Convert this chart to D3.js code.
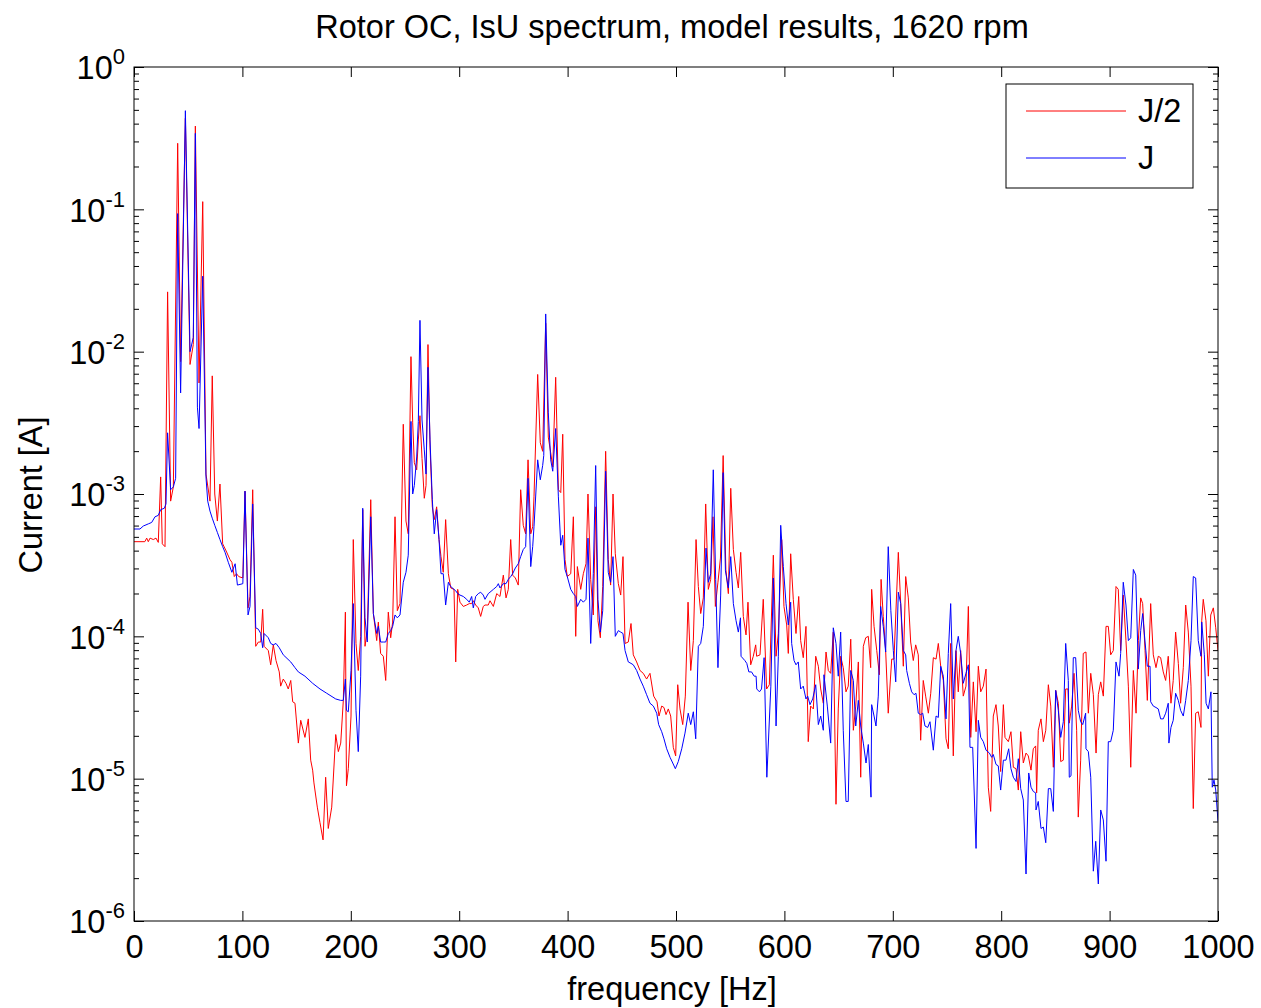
<!DOCTYPE html>
<html>
<head>
<meta charset="utf-8">
<script src="https://cdn.jsdelivr.net/npm/d3@7"></script>
<style>
body {margin:0; background:#fff;}
text {font-family:"Liberation Sans", Arial, Helvetica, sans-serif; fill:#000;}
</style>
</head>
<body>
<div id="chart"></div>
<script>
const FRAME_WIDTH = 1261;
const FRAME_HEIGHT = 1008;
const MARGINS = {left:134, right:43, top:67, bottom:87};

const VIS_WIDTH = FRAME_WIDTH - MARGINS.left - MARGINS.right;
const VIS_HEIGHT = FRAME_HEIGHT - MARGINS.top - MARGINS.bottom;

// tick values
const X_TICKS = [0, 100, 200, 300, 400, 500, 600, 700, 800, 900, 1000];
const Y_DECADES = [-6, -5, -4, -3, -2, -1, 0];
const MINOR_MULTS = [2, 3, 4, 5, 6, 7, 8, 9];

const SERIES_NAMES = ["J/2", "J"];

// J/2 spectrum: [frequency Hz, log10 current A]
const halfJ = [
[0,-3.335],[10,-3.335],[11.7,-3.31],[13.2,-3.335],[14.8,-3.31],[17.8,-3.32],[20.3,-3.31],[22.4,-3.34],[24.6,-2.88],[26.1,-3.35],
[28.6,-3.37],[31,-1.58],[33.8,-3.05],[36.3,-2.95],[40.3,-0.536],[43,-2.07],[47.4,-0.36],[51.7,-2.09],[54.7,-1.95],[56.6,-0.415],
[60,-2.22],[63.4,-0.946],[66.4,-2.86],[70.1,-3.05],[72.2,-2.17],[74.5,-3.0],[76.9,-3.19],[79.3,-2.93],[81.8,-3.35],[85,-3.40],
[88.5,-3.46],[90.3,-3.48],[92.5,-3.58],[94.6,-3.56],[96.6,-3.58],[100.4,-3.59],
[102.4,-2.98],[105.2,-3.80],[107,-3.72],[109.5,-2.97],[112.3,-4.07],[114.7,-4.04],[116.9,-4.04],[118.7,-3.81],[120,-4.07],[123.9,-4.10],
[126.1,-4.20],[128.5,-4.06],[131,-4.17],[134,-4.25],[135.3,-4.35],[137.7,-4.30],[140.2,-4.33],[142.3,-4.37],[144.6,-4.31],[146.4,-4.46],
[148.5,-4.47],[151.6,-4.75],[153.8,-4.59],[157.7,-4.71],[160.8,-4.58],[163,-4.87],[164.8,-4.94],[166,-5.03],[169.1,-5.20],[171.6,-5.31],
[174.4,-5.43],[176.8,-4.99],[179.2,-5.35],[182.4,-5.20],[186.1,-4.69],[188.5,-4.81],[190.7,-4.75],[193.1,-4.45],[195,-3.83],[196,-5.05],
[197.7,-4.93],[200.2,-4.56],[202.3,-3.32],[204.8,-4.05],[206.9,-4.24],[209.1,-4.0],[211,-3.11],[213.1,-4.07],[215.2,-3.96],[218.4,-3.04],
[220.8,-3.84],[223.9,-4.03],[225.4,-3.90],[227.5,-4.12],[230,-4.14],[232.2,-4.31],[234.6,-3.83],[236.8,-4.01],[238.6,-3.90],[240.8,-3.16],
[242.9,-3.82],[245.4,-3.77],[248.4,-2.51],[250.9,-3.19],[253,-3.28],[255.5,-2.035],[257.1,-2.50],[258.6,-2.78],[260.8,-2.83],[262.3,-2.62],
[263.8,-2.45],[265.7,-2.75],[267.8,-3.03],[269.4,-2.94],[271.2,-1.95],[273.1,-2.67],[275.2,-3.09],[277,-3.18],[279.2,-3.09],[281.4,-3.32],
[283.2,-3.44],[285.3,-3.55],[287.5,-3.18],[290,-3.56],[292.2,-3.66],[295.2,-3.67],[296.8,-4.18],[298.6,-3.67],[300.7,-3.76],[303.8,-3.79],
[306.9,-3.78],[309.3,-3.77],[311.5,-3.77],[313,-3.75],[315.2,-3.78],[317.6,-3.80],[319.8,-3.86],[322.2,-3.79],[323.8,-3.78],[326.8,-3.78],
[328.4,-3.75],[331.5,-3.79],[334.6,-3.70],[336.1,-3.71],[337.6,-3.72],[340.7,-3.57],[343.2,-3.73],[345.3,-3.67],[347.5,-3.32],[349.3,-3.57],
[351.8,-3.59],[354.5,-3.64],[356.7,-2.97],[359.1,-3.22],[361.3,-3.28],[363.5,-2.76],[366,-3.28],[367.8,-3.23],[369,-3.02],[372.4,-2.16],
[374.8,-2.64],[377,-2.70],[379.8,-1.80],[382.2,-2.60],[384.4,-2.71],[386.3,-2.81],[389,-2.18],[391.5,-2.97],[393.7,-2.99],[395.5,-2.58],
[397.6,-3.46],[399.7,-3.58],[402.9,-3.56],[405.3,-3.16],[407.5,-4.0],[409,-3.51],[412.1,-3.67],[414.5,-3.56],[417,-3.49],[418.8,-3.0],
[421.3,-3.60],[423.7,-3.85],[425.9,-3.09],[428,-3.89],[430.2,-4.01],[432.4,-3.65],[435.1,-2.70],[437.5,-3.46],[439.7,-3.64],[441.9,-3.0],
[444,-3.42],[446.8,-3.63],[449,-3.71],[451.1,-3.44],[453,-4.05],[456,-4.04],[458.5,-3.91],[460.6,-4.13],[463.7,-4.18],[466.8,-4.24],
[469.8,-4.26],[472.9,-4.30],[476,-4.26],[479.4,-4.42],[482.5,-4.46],[484.3,-4.56],[486.8,-4.49],[488.9,-4.50],[490.8,-4.55],[492.9,-4.51],
[495.1,-4.56],[497.5,-4.78],[499.7,-4.84],[501.6,-4.34],[503.7,-4.51],[506.2,-4.62],[508.6,-4.42],[511.1,-3.76],[513.6,-4.24],[516,-4.03],
[518.5,-3.32],[520.6,-3.65],[522.8,-3.84],[525.2,-3.73],[527.4,-3.07],[529.8,-3.67],[532,-3.60],[534.1,-3.16],[536.3,-3.79],[538.7,-3.62],
[541,-3.45],[543.5,-2.73],[546,-3.53],[548.3,-3.70],[550.5,-2.96],[552.9,-3.39],[555.4,-3.55],[557.5,-3.66],[559.7,-3.41],[562.1,-3.86],
[564.6,-3.99],[566.4,-3.76],[568.9,-4.20],[571.3,-4.14],[573.5,-4.06],[574.4,-4.14],[577.5,-4.13],[580.5,-3.74],[583.6,-4.37],[586.1,-4.34],
[589.8,-3.43],[592.3,-4.14],[594.4,-3.98],[597.5,-3.32],[599.6,-3.79],[602.1,-3.92],[603.6,-4.12],[605.8,-3.42],[608.2,-3.74],[610.7,-3.98],
[613.2,-3.72],[615,-4.03],[617.4,-4.15],[619.9,-3.93],[622,-4.74],[624.2,-4.49],[626.7,-4.51],[628.9,-4.14],[631.3,-4.21],[633.5,-4.37],
[635.9,-4.47],[638.4,-4.11],[640.5,-4.24],[642.7,-4.26],[645.1,-3.97],[647.6,-5.18],[649.7,-4.51],[651.9,-4.14],[654.3,-4.22],[656.8,-4.39],
[658.9,-4.35],[661.2,-4.02],[663.6,-4.66],[665.8,-4.49],[668.2,-4.18],[670.4,-4.99],[672.8,-4.07],[675,-4.01],[677.4,-4.0],[679.6,-4.22],
[680.5,-3.67],[682.7,-3.93],[685.2,-4.10],[687.6,-4.27],[689.2,-3.60],[691.2,-3.86],[693.4,-4.10],[695.8,-4.54],[699,-4.16],[701.1,-4.16],
[705.1,-3.41],[707.3,-3.77],[709.7,-4.21],[711.9,-3.58],[714.3,-3.73],[716.5,-4.04],[718.9,-4.17],[721.1,-4.06],[723.5,-4.13],[725.7,-4.73],
[728.1,-4.31],[730.3,-4.42],[732.8,-4.54],[735,-4.40],[737.4,-4.15],[739.9,-4.16],[742,-4.05],[744.2,-4.21],[746.6,-4.31],[749.1,-4.72],
[751.2,-4.79],[753.4,-4.05],[755.8,-4.84],[758.3,-4.10],[760.4,-4.39],[762.6,-4.10],[765,-4.42],[767.5,-4.35],[769.7,-3.79],[771.9,-4.71],
[774.3,-4.32],[776.8,-4.67],[778.9,-4.21],[781.1,-4.39],[783.5,-4.35],[786,-4.23],[788.1,-5.06],[790.3,-5.23],[792.7,-4.56],[795.2,-4.48],
[797.3,-4.63],[799.5,-4.95],[802,-4.48],[803.5,-4.71],[806.6,-4.74],[809,-4.67],[811.2,-4.92],[813.7,-4.93],[815.8,-5.08],[818,-4.67],
[820.4,-4.89],[822.9,-4.82],[825,-4.84],[827.5,-4.94],[829.6,-4.79],[831.8,-4.77],[832.7,-5.10],[834.2,-4.66],[836.7,-4.58],[838.9,-4.74],
[841.1,-4.66],[843.5,-4.34],[845.7,-4.49],[848.1,-4.92],[850.3,-4.38],[852.7,-4.47],[854.9,-4.88],[857.3,-4.87],[859.5,-4.37],[861.6,-4.37],
[862.8,-4.61],[865,-4.49],[867.2,-4.26],[869.6,-4.66],[871.1,-5.27],[873.3,-4.87],[875.7,-4.12],[878.2,-4.11],[880.4,-4.54],[882.6,-4.26],
[885,-4.41],[887.5,-4.82],[889.6,-4.41],[891.8,-4.32],[894.2,-4.42],[896.7,-3.93],[898.8,-3.93],[901,-4.13],[903.4,-4.10],[905.9,-3.65],
[908,-3.67],[910.2,-4.10],[912.6,-3.71],[915.1,-4.03],[917.3,-4.35],[919.5,-4.92],[921.9,-4.24],[924.4,-4.54],[926.5,-4.03],[928.7,-3.73],
[930.5,-3.77],[932.7,-4.10],[934.8,-4.45],[937.9,-3.77],[940.3,-4.13],[942.8,-4.22],[944.9,-4.14],[947.1,-4.15],[949.5,-4.25],[951.7,-4.31],
[954.1,-4.14],[956.6,-4.47],[958.7,-4.31],[960.9,-3.97],[963.4,-4.19],[965.5,-4.47],[968,-4.22],[970.2,-3.78],[972.6,-3.97],[975.1,-4.35],
[977.2,-5.21],[979.4,-4.54],[981.8,-4.53],[984.3,-4.64],[985,-3.89],[986.4,-3.74],[988.9,-3.89],[991.1,-4.28],[993.3,-3.85],[995.7,-3.80],
[997.9,-3.94],[1000,-4.10]
];

// J spectrum: [frequency Hz, log10 current A]
const fullJ = [
[0,-3.246],[5.5,-3.246],[8.6,-3.225],[13.2,-3.21],[16.3,-3.20],[19.4,-3.16],[22.4,-3.15],[24.6,-3.11],[28,-3.10],[29.5,-3.07],
[31,-2.57],[33.8,-2.97],[36.3,-2.95],[38.4,-2.89],[40.3,-1.03],[43,-2.29],[47.4,-0.307],[51.7,-2.0],[54.7,-1.90],[56.6,-0.466],
[58.5,-2.39],[60,-2.54],[63.4,-1.47],[66.4,-2.88],[68,-3.05],[70.1,-3.12],[72.2,-3.17],[74.5,-3.22],[76.9,-3.27],[79.3,-3.32],
[81.8,-3.37],[84,-3.41],[87,-3.48],[90.3,-3.55],[93.3,-3.49],[95.4,-3.64],[100.4,-3.63],
[102.4,-2.98],[105.2,-3.85],[107,-3.79],[109.5,-3.07],[112.3,-3.94],[114.7,-3.95],[116.9,-3.98],[118.7,-4.08],[120,-3.98],[123.9,-4.01],
[126.1,-4.05],[128.5,-4.06],[131,-4.05],[134,-4.08],[137.7,-4.13],[144.6,-4.18],[148.5,-4.22],[151.6,-4.25],[157.7,-4.28],[164.8,-4.33],
[171.6,-4.37],[177.8,-4.40],[186.1,-4.44],[190.7,-4.45],[193.1,-4.45],[195,-4.30],[196,-4.52],[197.7,-4.53],[200.2,-4.24],[202.3,-3.77],
[204.8,-4.52],[206.9,-4.81],[209.1,-4.28],[211,-3.10],[213.1,-3.87],[215.2,-4.04],[218.4,-3.16],[220.8,-3.84],[223.9,-3.98],[225.4,-3.93],
[227.5,-4.04],[230,-4.04],[232.2,-4.04],[234.6,-3.98],[236.8,-3.96],[238.6,-3.93],[240.8,-3.85],[242.9,-3.87],[245.4,-3.85],[248.4,-3.62],
[250.9,-3.55],[253,-3.43],[255.5,-2.49],[257.1,-3.0],[258.6,-2.94],[260.8,-2.74],[262.3,-2.49],[263.8,-1.78],[265.7,-2.48],[267.8,-2.69],
[269.4,-2.86],[271.2,-2.11],[273.1,-2.62],[275.2,-3.04],[277,-3.28],[279.2,-3.11],[281.4,-3.32],[283.2,-3.56],[285.3,-3.56],[287.5,-3.78],
[290,-3.62],[292.2,-3.65],[295.2,-3.67],[296.8,-3.68],[298.6,-3.70],[300.7,-3.71],[303.8,-3.72],[306.9,-3.74],[309.3,-3.76],[311.5,-3.72],
[313,-3.80],[315.2,-3.72],[317.6,-3.70],[319.8,-3.69],[322.2,-3.71],[323.8,-3.74],[326.8,-3.70],[328.4,-3.69],[331.5,-3.67],[334.6,-3.65],
[336.1,-3.63],[337.6,-3.66],[340.7,-3.63],[343.2,-3.63],[345.3,-3.60],[347.5,-3.58],[349.3,-3.56],[351.8,-3.52],[354.5,-3.49],[356.7,-3.44],
[359.1,-3.39],[361.3,-3.37],[363.5,-2.89],[366,-3.51],[367.8,-3.37],[369,-3.23],[372.4,-2.76],[374.8,-2.90],[377,-2.80],[378,-2.73],
[379.8,-1.735],[382.2,-2.43],[384.4,-2.76],[386.3,-2.84],[389,-2.54],[391.5,-3.02],[393.7,-3.36],[395.5,-3.29],[397.6,-3.53],[399.7,-3.58],
[402.9,-3.67],[405.3,-3.70],[407.5,-3.72],[409,-3.79],[412.1,-3.74],[414.5,-3.76],[417,-3.74],[418.8,-3.31],[421.3,-4.05],[423.7,-3.56],
[425.9,-2.80],[428,-3.74],[430.2,-3.97],[432.4,-3.82],[435.1,-2.84],[437.5,-3.55],[439.7,-3.62],[441.9,-3.44],[444,-4.0],[446.8,-3.96],
[449,-3.97],[451.1,-3.98],[453,-4.10],[456,-4.18],[458.5,-4.19],[460.6,-4.20],[463.7,-4.24],[466.8,-4.30],[469.8,-4.35],[472.9,-4.41],
[476,-4.47],[479.1,-4.49],[482.2,-4.54],[484,-4.62],[486.8,-4.67],[488.9,-4.72],[491.4,-4.79],[494.5,-4.85],[497,-4.89],[499.4,-4.93],
[502.1,-4.88],[505.3,-4.79],[508.3,-4.68],[511.3,-4.54],[513.6,-4.62],[516,-4.53],[518.2,-4.72],[520.6,-4.07],[522.8,-4.05],[525.2,-3.93],
[527.7,-3.38],[529.8,-3.62],[532,-3.56],[534.4,-2.83],[536.6,-3.60],[538.7,-4.22],[541.2,-3.71],[543.5,-2.85],[545.6,-3.54],[548.3,-3.66],
[550.5,-3.44],[552.9,-3.77],[555.4,-3.89],[557.5,-3.97],[559.5,-3.87],[560,-4.14],[563.5,-4.17],[565.3,-4.19],[567.2,-4.25],[569.7,-4.25],
[572.1,-4.28],[573.9,-4.28],[574.5,-4.37],[577,-4.39],[578.9,-4.37],[581.3,-4.15],[583.8,-4.99],[587.5,-4.35],[589.8,-3.59],[592.3,-4.63],
[594.4,-4.14],[596.6,-3.22],[599,-3.51],[601.5,-3.77],[603.6,-3.92],[605.8,-3.76],[606.7,-4.05],[608.9,-4.17],[610.7,-4.20],[612.8,-4.18],
[615,-4.37],[617.4,-4.35],[619.9,-4.44],[621.5,-4.42],[623.6,-4.48],[626.1,-4.44],[628.9,-4.34],[631.3,-4.62],[633.5,-4.56],[635.9,-4.66],
[636.5,-4.27],[639.6,-4.49],[642.7,-4.75],[645.1,-3.94],[647.6,-4.05],[649.7,-4.28],[651.9,-3.97],[654.3,-4.66],[656.8,-5.16],[658.9,-5.16],
[661.2,-4.24],[663.6,-4.31],[665.8,-4.63],[668.2,-4.45],[670.4,-4.63],[672.8,-4.75],[675.3,-4.89],[677.4,-4.76],[679.9,-5.13],[680.5,-4.48],
[682.7,-4.56],[684.5,-4.63],[686.6,-4.42],[688.8,-3.79],[691.2,-3.93],[693.4,-4.11],[695.8,-3.37],[698.2,-3.82],[700.5,-4.10],[702.7,-4.32],
[705.1,-3.69],[707.3,-3.77],[709.7,-4.10],[711.9,-4.13],[712.8,-4.24],[715.3,-4.33],[717.4,-4.39],[719.6,-4.41],[721.4,-4.40],[723.5,-4.54],
[725.7,-4.55],[727.6,-4.54],[729.7,-4.63],[732.2,-4.64],[734.3,-4.60],[737.4,-4.80],[739.9,-4.56],[742,-4.57],[744.2,-4.21],[746.6,-4.28],
[749.1,-4.58],[751.2,-4.12],[753.4,-3.77],[755.8,-4.44],[758.3,-4.10],[760.4,-4.0],[762.6,-4.12],[765,-4.33],[767.5,-4.26],[769.7,-4.20],
[771.2,-4.78],[773.7,-4.78],[776.8,-5.49],[778.9,-4.59],[781.1,-4.71],[783.5,-4.74],[786,-4.80],[789.1,-4.82],[791.2,-4.85],[792.7,-4.83],
[795.2,-4.90],[797.3,-4.91],[799.5,-5.08],[802,-4.87],[804.4,-4.87],[806.9,-4.79],[809,-4.93],[811.2,-4.99],[813.7,-5.02],[815.8,-4.86],
[818,-5.07],[820.4,-5.15],[822.9,-5.67],[825.4,-4.96],[827.5,-5.06],[829.6,-5.09],[831.8,-5.10],[832.1,-5.22],[834.2,-5.16],[836.7,-5.35],
[838.9,-5.34],[841.1,-5.45],[843.5,-5.07],[845.7,-5.07],[848.1,-5.23],[850.3,-4.38],[852.7,-4.52],[854.9,-4.71],[857.3,-4.60],[859.5,-4.05],
[861.9,-4.31],[862.8,-4.99],[864.4,-4.98],[866.5,-4.15],[868.7,-4.15],[871.1,-4.52],[873.3,-4.60],[875.2,-4.62],[877.9,-4.54],[878.2,-4.79],
[880.4,-4.81],[882.6,-4.99],[885,-5.65],[887.2,-5.44],[889.6,-5.74],[891.8,-5.22],[894.2,-5.29],[896.7,-5.58],[898.8,-4.74],[901,-4.74],
[903.4,-4.66],[905.9,-4.18],[908.7,-4.28],[910.2,-4.12],[912.6,-3.62],[915.1,-3.78],[917.3,-4.03],[919.5,-4.01],[921.9,-3.53],[924.1,-3.57],
[926.5,-4.23],[928.7,-3.96],[930.5,-3.84],[932.7,-4.04],[934.8,-4.21],[937.3,-4.21],[937.9,-4.46],[940.3,-4.49],[942.8,-4.50],[944.9,-4.51],
[947.1,-4.58],[949.5,-4.58],[951.7,-4.54],[954.1,-4.47],[954.7,-4.75],[956.6,-4.64],[958.7,-4.59],[960.9,-4.40],[963.4,-4.45],[965.5,-4.52],
[968,-4.56],[970.2,-4.45],[972.6,-4.31],[975.1,-4.03],[977.2,-3.58],[979.4,-3.59],[981.8,-4.03],[984.3,-4.14],[985,-3.90],[987.4,-4.13],
[989,-4.47],[991.1,-4.51],[993.5,-4.39],[994.7,-5.06],[996.3,-5.01],[997.9,-5.08],[1000,-5.30]
];

const COLORS = ["#ff0000", "#0000ff"];

const FRAME = d3.select("#chart")
    .append("svg")
        .attr("width", FRAME_WIDTH)
        .attr("height", FRAME_HEIGHT)
        .style("background", "#fff");

const X_SCALE = d3.scaleLinear()
    .domain([0, 1000])
    .range([0, VIS_WIDTH]);

const Y_SCALE = d3.scaleLog()
    .domain([1e-6, 1])
    .range([VIS_HEIGHT, 0]);

const PLOT = FRAME.append("g")
    .attr("transform", "translate(" + MARGINS.left + "," + MARGINS.top + ")");

PLOT.append("clipPath").attr("id", "plotClip")
    .append("rect")
        .attr("width", VIS_WIDTH)
        .attr("height", VIS_HEIGHT);

//the two spectra, J/2 first so J sits on top
const line = d3.line()
    .x(d => X_SCALE(d[0]))
    .y(d => Y_SCALE(Math.pow(10, d[1])));

[halfJ, fullJ].forEach((series, i) => {
    PLOT.append("path")
        .datum(series)
        .attr("clip-path", "url(#plotClip)")
        .attr("fill", "none")
        .attr("stroke", COLORS[i])
        .attr("stroke-width", 1)
        .attr("d", line);
});

const FONT = 32.5;

//bottom axis with labels, ticks pointing in
const xAxis = PLOT.append("g")
    .attr("transform", "translate(0," + VIS_HEIGHT + ")")
    .call(d3.axisBottom(X_SCALE).tickValues(X_TICKS).tickFormat(d3.format("d"))
        .tickSizeInner(-10).tickSizeOuter(0).tickPadding(14));
xAxis.selectAll("text").attr("font-size", FONT);

//top axis, ticks only
PLOT.append("g")
    .call(d3.axisTop(X_SCALE).tickValues(X_TICKS).tickSizeInner(-10).tickSizeOuter(0).tickFormat(""));

//minor log ticks
const minorTicks = [];
Y_DECADES.slice(0, -1).forEach(e => MINOR_MULTS.forEach(m => minorTicks.push(m * Math.pow(10, e))));

const majorTicks = Y_DECADES.map(e => Math.pow(10, e));

//left axis with 10^n labels
const yAxis = PLOT.append("g")
    .call(d3.axisLeft(Y_SCALE).tickValues(majorTicks).tickSizeInner(-10).tickSizeOuter(0).tickPadding(9));
yAxis.selectAll("text")
    .attr("font-size", FONT)
    .attr("dy", "0.36em")
    .each(function(d) {
        const t = d3.select(this);
        const e = Math.round(Math.log10(d));
        t.text(null);
        t.append("tspan").text("10");
        t.append("tspan").attr("font-size", 22).attr("dy", -15).text(e);
    });
PLOT.append("g")
    .call(d3.axisLeft(Y_SCALE).tickValues(minorTicks).tickSizeInner(-5).tickSizeOuter(0).tickFormat(""));

//right axis, ticks only
PLOT.append("g")
    .attr("transform", "translate(" + VIS_WIDTH + ",0)")
    .call(d3.axisRight(Y_SCALE).tickValues(majorTicks).tickSizeInner(-10).tickSizeOuter(0).tickFormat(""));
PLOT.append("g")
    .attr("transform", "translate(" + VIS_WIDTH + ",0)")
    .call(d3.axisRight(Y_SCALE).tickValues(minorTicks).tickSizeInner(-5).tickSizeOuter(0).tickFormat(""));

PLOT.selectAll(".domain").remove();
PLOT.selectAll(".tick line").attr("stroke", "#000");

//box
PLOT.append("rect")
    .attr("width", VIS_WIDTH)
    .attr("height", VIS_HEIGHT)
    .attr("fill", "none")
    .attr("stroke", "#000")
    .attr("stroke-width", 1);

//title and axis labels
FRAME.append("text")
    .attr("x", MARGINS.left + VIS_WIDTH / 2 - 4)
    .attr("y", 38)
    .attr("text-anchor", "middle")
    .attr("font-size", FONT)
    .text("Rotor OC, IsU spectrum, model results, 1620 rpm");

FRAME.append("text")
    .attr("x", MARGINS.left + VIS_WIDTH / 2 - 4)
    .attr("y", 1000)
    .attr("text-anchor", "middle")
    .attr("font-size", FONT)
    .text("frequency [Hz]");

FRAME.append("text")
    .attr("transform", "translate(42,495) rotate(-90)")
    .attr("text-anchor", "middle")
    .attr("font-size", FONT)
    .text("Current [A]");

//legend
const LEGEND = FRAME.append("g")
    .attr("transform", "translate(1006,84)");
LEGEND.append("rect")
    .attr("width", 187)
    .attr("height", 104)
    .attr("fill", "#fff")
    .attr("stroke", "#000")
    .attr("stroke-width", 1);
SERIES_NAMES.forEach((name, i) => {
    const yy = 27 + i * 47;
    LEGEND.append("line")
        .attr("x1", 20).attr("x2", 120)
        .attr("y1", yy).attr("y2", yy)
        .attr("stroke", COLORS[i])
        .attr("stroke-width", 1);
    LEGEND.append("text")
        .attr("x", 132)
        .attr("y", yy + 11)
        .attr("font-size", FONT)
        .text(name);
});
</script>
</body>
</html>
